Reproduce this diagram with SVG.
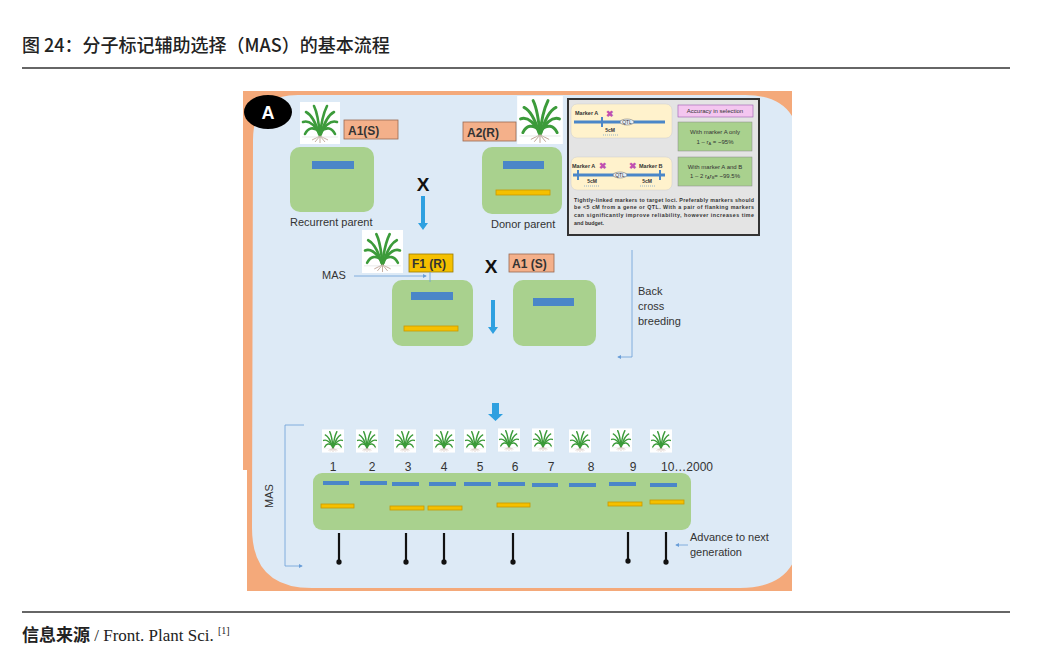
<svg xmlns="http://www.w3.org/2000/svg" width="1044" height="672" viewBox="0 0 1044 672">
<style>
.cn{font-family:"Noto Sans CJK SC","Liberation Sans",sans-serif}
.s{font-family:"Liberation Sans",Arial,sans-serif;fill:#333}
.g{fill:#A9D18E}
.bl{fill:#4A86C8}
.ye{fill:#F5C000;stroke:#C99A00;stroke-width:0.8}
.lb{fill:#F4B08A;stroke:#9A6A50;stroke-width:0.8}
.ln{stroke:#6A9ED8;stroke-width:0.8;fill:none}
.vl{stroke:#111;stroke-width:2.2}
</style>
<defs>
<symbol id="plant" viewBox="0 0 40 42">
<rect width="40" height="42" fill="#fff"/>
<g fill="none" stroke="#3C9B3A" stroke-width="2.6" stroke-linecap="round">
<path d="M20 34 C19 22 18 12 14 4"/>
<path d="M20 34 C21 22 23 12 27 4"/>
<path d="M20 32 C14 22 8 18 3 20"/>
<path d="M20 32 C26 22 32 18 37 20"/>
<path d="M20 30 C13 24 8 26 5 32"/>
<path d="M20 30 C27 24 32 26 35 32"/>
<path d="M19 32 C15 18 10 12 6 10"/>
<path d="M21 32 C25 18 30 12 34 10"/>
</g>
<g stroke="#B89A8A" stroke-width="0.8" fill="none"><path d="M20 34 L15 40 M20 34 L20 41 M20 34 L25 40 M20 34 L12 38 M20 34 L28 38"/></g>
<line x1="2" y1="35" x2="38" y2="35" stroke="#ddd" stroke-width="0.6"/>
</symbol>
<marker id="ah" markerWidth="5" markerHeight="5" refX="4" refY="2.5" orient="auto"><path d="M0 0 L5 2.5 L0 5z" fill="#6A9ED8"/></marker>
<marker id="bk" markerWidth="4" markerHeight="4" refX="2" refY="2" orient="auto"><circle cx="2" cy="2" r="1.2" fill="#111"/></marker>
<clipPath id="cp"><rect x="243" y="91" width="549" height="500"/></clipPath>
</defs>
<rect width="1044" height="672" fill="#fff"/>
<text x="22" y="52" class="cn" font-size="18" font-weight="500" fill="#222">图 24：分子标记辅助选择（MAS）的基本流程</text>
<line x1="22" y1="68" x2="1010" y2="68" stroke="#333" stroke-width="1.5"/>
<g clip-path="url(#cp)">
<rect x="243" y="91" width="549" height="500" fill="#F4A97A"/>
<path d="M253 140 Q253 95 298 95 L745 95 Q800 95 800 150 L800 530 Q800 588 740 588 L312 588 Q252 588 252 528 Z" fill="#DDEAF6"/>
<rect x="243" y="470" width="4" height="121" fill="#fff"/>
</g>
<g id="labelA"><ellipse cx="268" cy="112" rx="24" ry="17" fill="#000"/><text x="268" y="119" text-anchor="middle" font-family="Liberation Sans,sans-serif" font-weight="bold" font-size="18" fill="#fff">A</text></g>
<g id="recurrent">
<use href="#plant" x="300" y="102" width="40" height="42"/>
<rect x="344" y="120" width="54" height="19" class="lb"/><text x="348" y="135" class="s" font-size="12" font-weight="bold">A1(S)</text>
<rect x="290" y="147" width="84" height="65" rx="10" class="g"/>
<rect x="312" y="161" width="42" height="8" class="bl"/>
<text x="290" y="226" class="s" font-size="11">Recurrent parent</text>
</g>
<g id="donor">
<use href="#plant" x="517" y="96" width="46" height="48"/>
<rect x="463" y="122" width="53" height="19" class="lb"/><text x="467" y="137" class="s" font-size="12" font-weight="bold">A2(R)</text>
<rect x="482" y="147" width="80" height="67" rx="10" class="g"/>
<rect x="503" y="161" width="41" height="8" class="bl"/>
<rect x="496" y="190" width="54" height="5" class="ye"/>
<text x="491" y="228" class="s" font-size="11">Donor parent</text>
</g>
<g id="f1">
<use href="#plant" x="360" y="230" width="45" height="43"/>
<rect x="409" y="254" width="44" height="18" fill="#F5C000" stroke="#9A7A00" stroke-width="0.8"/><text x="412" y="268" class="s" font-size="12" font-weight="bold">F1 (R)</text>
<rect x="392" y="280" width="81" height="66" rx="10" class="g"/>
<rect x="411" y="292" width="42" height="8" class="bl"/>
<rect x="404" y="326" width="54" height="5" class="ye"/>
</g>
<g id="a1s">
<rect x="509" y="254" width="45" height="18" class="lb"/><text x="512" y="268" class="s" font-size="12" font-weight="bold">A1 (S)</text>
<rect x="513" y="280" width="83" height="66" rx="10" class="g"/>
<rect x="533" y="298" width="41" height="8" class="bl"/>
</g>
<g id="inset">
<rect x="568" y="99" width="191" height="136" fill="#E4E4E4" stroke="#333" stroke-width="2"/>
<rect x="571" y="104" width="101" height="34" rx="6" fill="#FFF2CC" stroke="#ccc" stroke-width="0.5"/>
<line x1="574" y1="122" x2="665" y2="122" stroke="#4A86C8" stroke-width="3"/>
<line x1="602" y1="117" x2="602" y2="127" stroke="#4A86C8" stroke-width="2"/>
<text x="575" y="115" class="s" font-size="5.5" font-weight="bold">Marker A</text>
<text x="610" y="117" font-family="Liberation Sans,sans-serif" font-size="9" font-weight="bold" fill="#C050B0" text-anchor="middle">✖</text>
<ellipse cx="627" cy="122" rx="7" ry="3" fill="#E8EEF6" stroke="#666" stroke-width="0.5"/><text x="627" y="124" class="s" font-size="5" text-anchor="middle">QTL</text>
<text x="610" y="132" class="s" font-size="5" text-anchor="middle" font-weight="bold">5cM</text>
<line x1="603" y1="135" x2="618" y2="135" stroke="#4A86C8" stroke-width="0.6" stroke-dasharray="1 1"/>
<rect x="571" y="157" width="101" height="33" rx="6" fill="#FFF2CC" stroke="#ccc" stroke-width="0.5"/>
<line x1="573" y1="175" x2="665" y2="175" stroke="#4A86C8" stroke-width="3"/>
<line x1="578" y1="170" x2="578" y2="180" stroke="#4A86C8" stroke-width="2"/>
<line x1="660" y1="170" x2="660" y2="180" stroke="#4A86C8" stroke-width="2"/>
<text x="572" y="168" class="s" font-size="5.5" font-weight="bold">Marker A</text>
<text x="603" y="169" font-family="Liberation Sans,sans-serif" font-size="9" font-weight="bold" fill="#C050B0" text-anchor="middle">✖</text>
<text x="633" y="169" font-family="Liberation Sans,sans-serif" font-size="9" font-weight="bold" fill="#C050B0" text-anchor="middle">✖</text>
<text x="639" y="168" class="s" font-size="5.5" font-weight="bold">Marker B</text>
<ellipse cx="620" cy="175" rx="7" ry="3" fill="#E8EEF6" stroke="#666" stroke-width="0.5"/><text x="620" y="177" class="s" font-size="5" text-anchor="middle">QTL</text>
<text x="592" y="183" class="s" font-size="5" text-anchor="middle" font-weight="bold">5cM</text>
<text x="647" y="183" class="s" font-size="5" text-anchor="middle" font-weight="bold">5cM</text>
<line x1="584" y1="186" x2="600" y2="186" stroke="#4A86C8" stroke-width="0.6" stroke-dasharray="1 1"/>
<line x1="640" y1="186" x2="655" y2="186" stroke="#4A86C8" stroke-width="0.6" stroke-dasharray="1 1"/>
<rect x="678" y="105" width="75" height="12" fill="#F4C6F0" stroke="#9A5AB0" stroke-width="0.6"/>
<text x="715" y="113" class="s" font-size="6" text-anchor="middle">Accuracy in selection</text>
<rect x="678" y="122" width="74" height="29" fill="#A9D18E" stroke="#888" stroke-width="0.5"/>
<text x="715" y="134" class="s" font-size="6" text-anchor="middle">With marker A only</text>
<text x="715" y="144" class="s" font-size="6" text-anchor="middle">1 – r<tspan font-size="4" dy="1">A</tspan><tspan dy="-1"> = ~95%</tspan></text>
<rect x="678" y="157" width="74" height="29" fill="#A9D18E" stroke="#888" stroke-width="0.5"/>
<text x="715" y="169" class="s" font-size="6" text-anchor="middle">With marker A and B</text>
<text x="715" y="178" class="s" font-size="6" text-anchor="middle">1 – 2 r<tspan font-size="4" dy="1">A</tspan><tspan dy="-1">r</tspan><tspan font-size="4" dy="1">B</tspan><tspan dy="-1">= ~99.5%</tspan></text>
<g class="s" font-size="5.3" font-weight="bold">
<text x="574" y="202" textLength="180">Tightly-linked markers to target loci. Preferably markers should</text>
<text x="574" y="209" textLength="180">be &lt;5 cM from a gene or QTL. With a pair of flanking markers</text>
<text x="574" y="217" textLength="180">can significantly improve reliability, however increases time</text>
<text x="574" y="225">and budget.</text>
</g>
</g>
<g id="progeny">
<use href="#plant" x="322" y="427" width="22" height="28"/>
<use href="#plant" x="356" y="427" width="22" height="28"/>
<use href="#plant" x="394" y="427" width="22" height="28"/>
<use href="#plant" x="433" y="427" width="22" height="28"/>
<use href="#plant" x="464" y="427" width="22" height="28"/>
<use href="#plant" x="498" y="426" width="22" height="28"/>
<use href="#plant" x="532" y="426" width="22" height="28"/>
<use href="#plant" x="569" y="427" width="22" height="28"/>
<use href="#plant" x="610" y="426" width="22" height="28"/>
<use href="#plant" x="650" y="427" width="22" height="28"/>
<g class="s" font-size="12" text-anchor="middle">
<text x="333" y="471">1</text><text x="372" y="471">2</text><text x="408" y="471">3</text><text x="444" y="471">4</text><text x="480" y="471">5</text><text x="515" y="471">6</text><text x="551" y="471">7</text><text x="591" y="471">8</text><text x="633" y="471">9</text><text x="687" y="471">10…2000</text>
</g>
<rect x="313" y="473" width="378" height="57" rx="9" class="g"/>
<g class="bl">
<rect x="323" y="481" width="26" height="4"/><rect x="360" y="481" width="27" height="4"/><rect x="392" y="482" width="27" height="4"/><rect x="429" y="482" width="27" height="4"/><rect x="464" y="482" width="27" height="4"/><rect x="498" y="482" width="27" height="4"/><rect x="532" y="483" width="26" height="4"/><rect x="569" y="483" width="27" height="4"/><rect x="609" y="482" width="27" height="4"/><rect x="650" y="483" width="27" height="4"/>
</g>
<rect x="321" y="504" width="33" height="4" class="ye"/><rect x="390" y="506" width="34" height="4" class="ye"/><rect x="428" y="506" width="34" height="4" class="ye"/><rect x="497" y="503" width="33" height="4" class="ye"/><rect x="608" y="502" width="34" height="4" class="ye"/><rect x="650" y="500" width="34" height="4" class="ye"/>
<text transform="translate(273 496) rotate(-90)" class="s" font-size="11" text-anchor="middle">MAS</text>
<text x="690" y="541" class="s" font-size="11">Advance to next</text>
<text x="690" y="556" class="s" font-size="11">generation</text>
</g>
<g id="connectors">
<text x="423" y="191" text-anchor="middle" font-family="Liberation Sans,sans-serif" font-weight="bold" font-size="19" fill="#111">X</text>
<text x="491" y="273" text-anchor="middle" font-family="Liberation Sans,sans-serif" font-weight="bold" font-size="19" fill="#111">X</text>
<path d="M421 196 H425 V223 H428 L423 230 L418 223 H421 Z" fill="#2EA0E0"/>
<path d="M491 300 H495 V327 H498 L493 334 L488 327 H491 Z" fill="#2EA0E0"/>
<path d="M492 403 H499 V414 H503 L495.5 421 L488 414 H492 Z" fill="#2EA0E0"/>
<text x="322" y="279" class="s" font-size="11">MAS</text>
<path d="M354 276 H426" class="ln" marker-end="url(#ah)"/>
<line x1="430" y1="272" x2="430" y2="282" class="ln"/>
<path d="M632 250 V357 H618" class="ln" marker-end="url(#ah)"/>
<text x="638" y="295" class="s" font-size="11">Back</text>
<text x="638" y="310" class="s" font-size="11">cross</text>
<text x="638" y="325" class="s" font-size="11">breeding</text>
<path d="M304 425 H285 V566 H302" class="ln" marker-end="url(#ah)"/>
<path d="M688 545 H676" class="ln" marker-end="url(#ah)"/>
<g class="vl" marker-end="url(#bk)">
<line x1="339" y1="533" x2="339" y2="562"/><line x1="406" y1="533" x2="406" y2="562"/><line x1="444" y1="533" x2="444" y2="562"/><line x1="513" y1="533" x2="513" y2="562"/><line x1="628" y1="532" x2="628" y2="561"/><line x1="666" y1="532" x2="666" y2="562"/>
</g>
</g>
<line x1="22" y1="612" x2="1010" y2="612" stroke="#333" stroke-width="1.5"/>
<text x="22" y="641" font-size="17" fill="#222"><tspan class="cn" font-weight="bold">信息来源</tspan><tspan font-family="Liberation Serif,serif"> / Front. Plant Sci. </tspan><tspan font-family="Liberation Serif,serif" font-size="10" dy="-7">[1]</tspan></text>
</svg>
